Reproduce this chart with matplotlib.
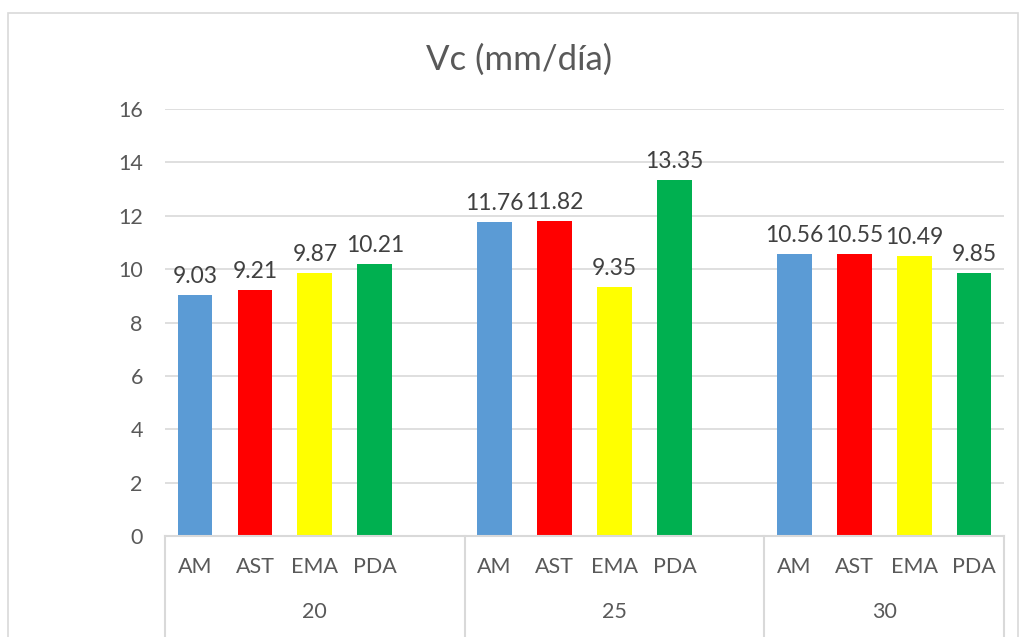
import matplotlib.pyplot as plt
from matplotlib.patches import Rectangle

plt.rcParams['font.family'] = ['Lato', 'DejaVu Sans']

grupos = ['20', '25', '30']
metodos = ['AM', 'AST', 'EMA', 'PDA']
colores = ['#5B9BD5', '#FF0000', '#FFFF00', '#00B050']
vc_20 = [9.03, 9.21, 9.87, 10.21]
vc_25 = [11.76, 11.82, 9.35, 13.35]
vc_30 = [10.56, 10.55, 10.49, 9.85]
valores = [vc_20, vc_25, vc_30]

gris = '#595959'
linea = '#D9D9D9'

fig = plt.figure(figsize=(10.21, 6.37), dpi=100)
ax = fig.add_axes([0.1616, 0.1585, 0.8218, 0.6703])

# marco exterior del grafico
fig.patches.append(Rectangle((8 / 1021, -0.05), 1010 / 1021, 1.05 - 13 / 637,
                             transform=fig.transFigure, fill=False,
                             edgecolor=linea, linewidth=1.2))

# 5 huecos por grupo (el ultimo vacio), el ultimo grupo sin hueco final
inicio = [0, 5, 10]
for g, vals in enumerate(valores):
    for i, v in enumerate(vals):
        x = inicio[g] + i
        ax.bar(x, v, width=0.58, color=colores[i], zorder=3)
        ax.text(x, v + 0.3, '%.2f' % v, ha='center', va='bottom',
                fontsize=16.5, color='#404040')
        ax.text(x, -0.072, metodos[i], transform=ax.get_xaxis_transform(),
                ha='center', va='center', fontsize=15.5, color=gris)
    fin = inicio[g] + 4.5 if g < 2 else 13.5
    ax.text((inicio[g] - 0.5 + fin) / 2, -0.178, grupos[g],
            transform=ax.get_xaxis_transform(), ha='center', va='center',
            fontsize=15.5, color=gris)

for xs in [-0.5, 4.5, 9.5, 13.5]:
    ax.plot([xs, xs], [0, -0.3], transform=ax.get_xaxis_transform(),
            color=linea, linewidth=1.5, clip_on=False)

ax.set_xlim(-0.5, 13.5)
ax.set_ylim(0, 16)
ax.set_yticks(range(0, 17, 2))
ax.set_xticks([])
ax.yaxis.grid(True, color=linea, linewidth=1.2, zorder=0)
ax.tick_params(axis='y', length=0, pad=16, labelsize=15.5, labelcolor=gris)
for s in ['left', 'right', 'top']:
    ax.spines[s].set_visible(False)
ax.spines['bottom'].set_color(linea)
ax.spines['bottom'].set_linewidth(1.5)
ax.spines['bottom'].set_zorder(4)

fig.text(519 / 1021, 1 - 60 / 637, 'Vc (mm/día)', ha='center', va='center',
         fontsize=25, color=gris)

fig.savefig('out.png', dpi=100)
